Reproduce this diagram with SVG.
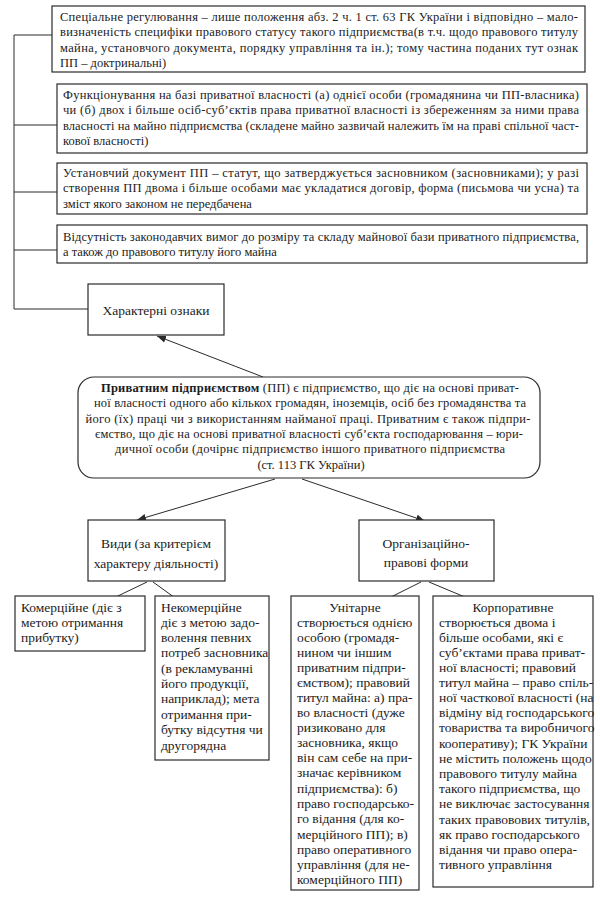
<svg xmlns="http://www.w3.org/2000/svg" width="600" height="913" viewBox="0 0 600 913">
<style>
text{fill:#1c1c1c}
.t{font-size:12.5px}
.m{font-size:13.5px}
.c{text-anchor:middle}
.bx{fill:#fff;stroke:#2a2a2a;stroke-width:1.2}
.ln{stroke:#2a2a2a;stroke-width:1;fill:none}
.ar{stroke:#2a2a2a;stroke-width:1;fill:none;marker-end:url(#ah)}
</style>
<defs>
<marker id="ah" viewBox="0 0 10 10" refX="10" refY="5" markerWidth="9" markerHeight="9" markerUnits="userSpaceOnUse" orient="auto">
<path d="M0,1 L10,5 L0,9 Z" fill="#2a2a2a"/>
</marker>
</defs>
<rect width="600" height="913" fill="#fff"/>

<g id="connectors">
<polyline class="ln" points="52,35 14,35 14,309 88,309"/>
<line class="ln" x1="14" y1="125" x2="57" y2="125"/>
<line class="ln" x1="14" y1="192" x2="57" y2="192"/>
<line class="ln" x1="14" y1="250" x2="57" y2="250"/>
<line class="ar" x1="263" y1="377" x2="157" y2="336"/>
<line class="ar" x1="275" y1="479" x2="137" y2="520"/>
<line class="ar" x1="302" y1="479" x2="425" y2="521"/>
<line class="ar" x1="147" y1="582" x2="72" y2="618"/>
<line class="ar" x1="153" y1="582" x2="203" y2="618"/>
<line class="ar" x1="421" y1="582" x2="349" y2="618"/>
<line class="ar" x1="429" y1="582" x2="515" y2="618"/>
</g>

<g id="n1">
<rect class="bx" x="52" y="6" width="533" height="66"/>
<text class="t" font-family="Liberation Serif, serif" x="60" y="21" textLength="518" lengthAdjust="spacing">Спеціальне регулювання – лише положення абз. 2 ч. 1 ст. 63 ГК України і відповідно – мало-</text>
<text class="t" font-family="Liberation Serif, serif" x="60" y="36" textLength="518" lengthAdjust="spacing">визначеність специфіки правового статусу такого підприємства(в т.ч. щодо правового титулу</text>
<text class="t" font-family="Liberation Serif, serif" x="60" y="52" textLength="518" lengthAdjust="spacing">майна, установчого документа, порядку управління та ін.); тому частина поданих тут ознак</text>
<text class="t" font-family="Liberation Serif, serif" x="60" y="67">ПП – доктринальні)</text>
</g>

<g id="n2">
<rect class="bx" x="57" y="84" width="530" height="69"/>
<text class="t" font-family="Liberation Serif, serif" x="63" y="99" textLength="516" lengthAdjust="spacing">Функціонування на базі приватної власності (а) однієї особи (громадянина чи ПП-власника)</text>
<text class="t" font-family="Liberation Serif, serif" x="63" y="114" textLength="516" lengthAdjust="spacing">чи (б) двох і більше осіб-суб’єктів права приватної власності із збереженням за ними права</text>
<text class="t" font-family="Liberation Serif, serif" x="63" y="130" textLength="516" lengthAdjust="spacing">власності на майно підприємства (складене майно зазвичай  належить їм на праві спільної част-</text>
<text class="t" font-family="Liberation Serif, serif" x="63" y="145">кової власності)</text>
</g>

<g id="n3">
<rect class="bx" x="57" y="163" width="530" height="51"/>
<text class="t" font-family="Liberation Serif, serif" x="63" y="177" textLength="516" lengthAdjust="spacing">Установчий документ ПП – статут, що затверджується засновником (засновниками); у разі</text>
<text class="t" font-family="Liberation Serif, serif" x="63" y="192" textLength="516" lengthAdjust="spacing">створення ПП двома і більше особами має укладатися договір, форма (письмова чи усна) та</text>
<text class="t" font-family="Liberation Serif, serif" x="63" y="208">зміст якого законом не передбачена</text>
</g>

<g id="n4">
<rect class="bx" x="57" y="225" width="530" height="38"/>
<text class="t" font-family="Liberation Serif, serif" x="63" y="241" textLength="516" lengthAdjust="spacing">Відсутність законодавчих вимог до розміру та складу майнової бази приватного підприємства,</text>
<text class="t" font-family="Liberation Serif, serif" x="63" y="256">а також до правового титулу його майна</text>
</g>

<g id="n5">
<rect class="bx" x="88" y="284" width="136" height="51"/>
<text class="m c" font-family="Liberation Serif, serif" x="156" y="315">Характерні ознаки</text>
</g>

<g id="n6">
<rect class="bx" x="78" y="377" width="462" height="101" rx="16" ry="16"/>
<text class="t c" font-family="Liberation Serif, serif" x="310" y="392" textLength="418" lengthAdjust="spacing"><tspan font-weight="bold">Приватним підприємством</tspan> (ПП) є підприємство, що діє на основі приват-</text>
<text class="t c" font-family="Liberation Serif, serif" x="310" y="407" textLength="432" lengthAdjust="spacing">ної власності одного або кількох громадян, іноземців, осіб без громадянства та</text>
<text class="t c" font-family="Liberation Serif, serif" x="308" y="423" textLength="445" lengthAdjust="spacing">його (їх) праці чи з використанням найманої праці. Приватним є також підпри-</text>
<text class="t c" font-family="Liberation Serif, serif" x="309" y="438" textLength="428" lengthAdjust="spacing">ємство, що діє на основі приватної власності суб’єкта господарювання – юри-</text>
<text class="t c" font-family="Liberation Serif, serif" x="310" y="453" textLength="390" lengthAdjust="spacing">дичної особи (дочірнє підприємство іншого приватного підприємства</text>
<text class="t c" font-family="Liberation Serif, serif" x="311" y="469">(ст. 113 ГК України)</text>
</g>

<g id="n7">
<rect class="bx" x="88" y="520" width="137" height="61"/>
<text class="m c" font-family="Liberation Serif, serif" x="156" y="548">Види (за критерієм</text>
<text class="m c" font-family="Liberation Serif, serif" x="156" y="568">характеру діяльності)</text>
</g>

<g id="n8">
<rect class="bx" x="359" y="520" width="135" height="61"/>
<text class="m c" font-family="Liberation Serif, serif" x="426" y="548">Організаційно-</text>
<text class="m c" font-family="Liberation Serif, serif" x="426" y="567">правові форми</text>
</g>

<g id="n9">
<rect class="bx" x="15" y="596" width="130" height="55"/>
<text class="m" font-family="Liberation Serif, serif" x="21" y="612">Комерційне (діє з</text>
<text class="m" font-family="Liberation Serif, serif" x="21" y="627">метою отримання</text>
<text class="m" font-family="Liberation Serif, serif" x="21" y="642">прибутку)</text>
</g>

<g id="n10">
<rect class="bx" x="155" y="596" width="114" height="164"/>
<text class="m" font-family="Liberation Serif, serif" x="161" y="612">Некомерційне</text>
<text class="m" font-family="Liberation Serif, serif" x="161" y="627">діє з метою задо-</text>
<text class="m" font-family="Liberation Serif, serif" x="161" y="642">волення певних</text>
<text class="m" font-family="Liberation Serif, serif" x="161" y="657">потреб засновника</text>
<text class="m" font-family="Liberation Serif, serif" x="161" y="673">(в рекламуванні</text>
<text class="m" font-family="Liberation Serif, serif" x="161" y="688">його продукції,</text>
<text class="m" font-family="Liberation Serif, serif" x="161" y="703">наприклад); мета</text>
<text class="m" font-family="Liberation Serif, serif" x="161" y="719">отримання при-</text>
<text class="m" font-family="Liberation Serif, serif" x="161" y="734">бутку відсутня чи</text>
<text class="m" font-family="Liberation Serif, serif" x="161" y="750">другорядна</text>
</g>

<g id="n11">
<rect class="bx" x="291" y="596" width="128" height="294"/>
<text class="m c" font-family="Liberation Serif, serif" x="355" y="612">Унітарне</text>
<text class="m" font-family="Liberation Serif, serif" x="297" y="627">створюється однією</text>
<text class="m" font-family="Liberation Serif, serif" x="297" y="642">особою (громадя-</text>
<text class="m" font-family="Liberation Serif, serif" x="297" y="657">нином чи іншим</text>
<text class="m" font-family="Liberation Serif, serif" x="297" y="672">приватним підпри-</text>
<text class="m" font-family="Liberation Serif, serif" x="297" y="687">ємством); правовий</text>
<text class="m" font-family="Liberation Serif, serif" x="297" y="702">титул майна: а) пра-</text>
<text class="m" font-family="Liberation Serif, serif" x="297" y="717">во власності (дуже</text>
<text class="m" font-family="Liberation Serif, serif" x="297" y="732">ризиковано для</text>
<text class="m" font-family="Liberation Serif, serif" x="297" y="747">засновника, якщо</text>
<text class="m" font-family="Liberation Serif, serif" x="297" y="762">він сам себе на при-</text>
<text class="m" font-family="Liberation Serif, serif" x="297" y="777">значає керівником</text>
<text class="m" font-family="Liberation Serif, serif" x="297" y="793">підприємства): б)</text>
<text class="m" font-family="Liberation Serif, serif" x="297" y="808">право господарсько-</text>
<text class="m" font-family="Liberation Serif, serif" x="297" y="823">го відання (для ко-</text>
<text class="m" font-family="Liberation Serif, serif" x="297" y="839">мерційного ПП); в)</text>
<text class="m" font-family="Liberation Serif, serif" x="297" y="854">право оперативного</text>
<text class="m" font-family="Liberation Serif, serif" x="297" y="869">управління (для не-</text>
<text class="m" font-family="Liberation Serif, serif" x="297" y="884">комерційного ПП)</text>
</g>

<g id="n12">
<rect class="bx" x="433" y="596" width="160" height="291"/>
<text class="m c" font-family="Liberation Serif, serif" x="513" y="612">Корпоративне</text>
<text class="m" font-family="Liberation Serif, serif" x="439" y="627">створюється двома і</text>
<text class="m" font-family="Liberation Serif, serif" x="439" y="642">більше особами, які є</text>
<text class="m" font-family="Liberation Serif, serif" x="439" y="657">суб’єктами права приват-</text>
<text class="m" font-family="Liberation Serif, serif" x="439" y="672">ної власності; правовий</text>
<text class="m" font-family="Liberation Serif, serif" x="439" y="687">титул майна – право спіль-</text>
<text class="m" font-family="Liberation Serif, serif" x="439" y="702">ної часткової власності (на</text>
<text class="m" font-family="Liberation Serif, serif" x="439" y="717">відміну від господарського</text>
<text class="m" font-family="Liberation Serif, serif" x="439" y="732">товариства та виробничого</text>
<text class="m" font-family="Liberation Serif, serif" x="439" y="748">кооперативу); ГК України</text>
<text class="m" font-family="Liberation Serif, serif" x="439" y="763">не містить положень щодо</text>
<text class="m" font-family="Liberation Serif, serif" x="439" y="778">правового титулу майна</text>
<text class="m" font-family="Liberation Serif, serif" x="439" y="793">такого підприємства, що</text>
<text class="m" font-family="Liberation Serif, serif" x="439" y="808">не виключає застосування</text>
<text class="m" font-family="Liberation Serif, serif" x="439" y="824">таких правовових титулів,</text>
<text class="m" font-family="Liberation Serif, serif" x="439" y="839">як право господарського</text>
<text class="m" font-family="Liberation Serif, serif" x="439" y="854">відання чи право опера-</text>
<text class="m" font-family="Liberation Serif, serif" x="439" y="869">тивного управління</text>
</g>
</svg>
